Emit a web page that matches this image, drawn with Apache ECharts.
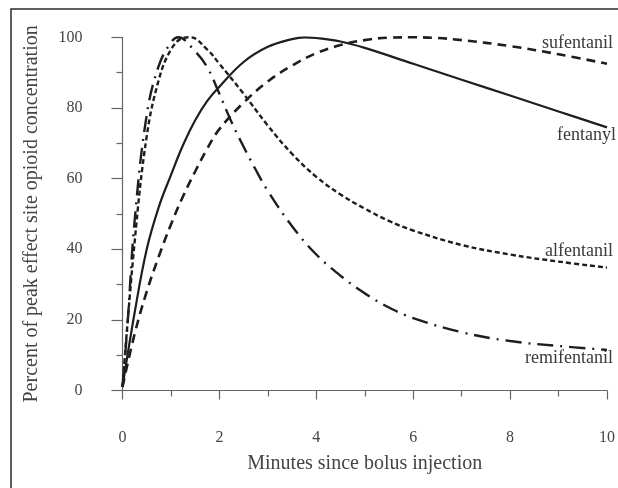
<!DOCTYPE html>
<html>
<head>
<meta charset="utf-8">
<script src="https://cdn.jsdelivr.net/npm/echarts@6/dist/echarts.min.js"></script>
<style>
html,body{margin:0;padding:0;background:#fff;}
#chart{width:618px;height:488px;}
</style>
</head>
<body>
<div id="chart"></div>
<script>
// Data (minutes, percent of peak)
const fentanylX = [0, 0.25, 0.5, 0.75, 1, 1.25, 1.5, 1.75, 2, 2.5, 3, 3.5, 3.75, 4, 4.5, 5, 6, 7, 8, 9, 10];
const fentanylY = [1, 22, 40, 52, 61, 69.5, 76.5, 82, 86, 93, 97.3, 99.5, 100, 99.8, 98.8, 97, 92.5, 88, 83.5, 79, 74.5];

const sufentanilX = [0, 0.25, 0.5, 0.75, 1, 1.25, 1.5, 1.75, 2, 2.5, 3, 3.5, 4, 4.5, 5, 5.5, 6, 6.5, 7, 8, 9, 10];
const sufentanilY = [1, 16, 28, 38, 47, 55, 62, 68.5, 74, 81.5, 87.5, 92, 95.5, 97.8, 99.2, 99.9, 100, 99.8, 99.2, 97.5, 95.2, 92.5];

const alfentanilX = [0, 0.25, 0.5, 0.75, 1, 1.25, 1.4, 1.75, 2, 2.5, 3, 3.5, 4, 4.5, 5, 5.5, 6, 7, 8, 9, 10];
const alfentanilY = [1, 42, 72, 88, 96.5, 99.8, 100, 96.5, 92.5, 84, 75, 67, 60.5, 55.5, 51.5, 48, 45.3, 41.2, 38.5, 36.5, 34.8];

const remifentanilX = [0, 0.1, 0.25, 0.5, 0.75, 1, 1.15, 1.5, 1.75, 2, 2.25, 2.5, 2.75, 3, 3.5, 4, 4.5, 5, 5.5, 6, 7, 8, 9, 10];
const remifentanilY = [1, 18, 48, 78, 92, 98.5, 100, 96, 91.5, 84, 76, 69, 62.5, 56.5, 46.5, 38.5, 32.5, 27.5, 23.5, 20.5, 16.5, 14, 12.6, 11.5];

const seriesNames = ['sufentanil', 'fentanyl', 'alfentanil', 'remifentanil'];
const xTicks = [0, 2, 4, 6, 8, 10];
const yTicks = [0, 20, 40, 60, 80, 100];

function pairs(xs, ys) { return xs.map((x, i) => [x, ys[i]]); }

const FONT = 'Liberation Serif';
const chart = echarts.init(document.getElementById('chart'), null, {renderer: 'canvas'});

function lineSeries(name, data, dash, width, labelOffset) {
  return {
    name: name,
    type: 'line',
    data: data,
    showSymbol: false,
    symbol: 'none',
    smooth: 0.4,
    lineStyle: {color: '#1e1e1e', width: width, type: dash},
    endLabel: {
      show: true,
      formatter: name,
      fontFamily: FONT,
      fontSize: 18,
      color: '#3a3a3a',
      align: 'right',
      verticalAlign: 'middle',
      distance: 5,
      offset: labelOffset
    },
    emphasis: {disabled: true},
    silent: true,
    animation: false
  };
}

chart.setOption({
  animation: false,
  backgroundColor: '#fff',
  textStyle: {fontFamily: FONT},
  graphic: [{
    type: 'rect',
    shape: {x: 11, y: 9, width: 800, height: 700},
    style: {fill: null, stroke: '#2a2a2a', lineWidth: 1.5},
    silent: true
  }],
  grid: {left: 122.5, right: 5.5, top: 37.3, bottom: 97.5, containLabel: false},
  xAxis: {
    type: 'value', min: 0, max: 10, interval: 2, offset: 17,
    axisLine: {show: true, lineStyle: {color: '#666', width: 1.2}},
    axisTick: {show: true, length: 9, lineStyle: {color: '#666', width: 1.2}},
    minorTick: {show: true, splitNumber: 2, length: 6, lineStyle: {color: '#666', width: 1.2}},
    splitLine: {show: false},
    axisLabel: {fontFamily: FONT, fontSize: 16, color: '#444', margin: 22,
      formatter: v => xTicks.includes(v) ? String(v) : ''},
    name: 'Minutes since bolus injection',
    nameLocation: 'middle', nameGap: 46,
    nameTextStyle: {fontFamily: FONT, fontSize: 20, color: '#444'}
  },
  yAxis: {
    type: 'value', min: 0, max: 100, interval: 20, offset: 11,
    axisLine: {show: true, lineStyle: {color: '#666', width: 1.2}},
    axisTick: {show: true, length: 11, lineStyle: {color: '#666', width: 1.2}},
    minorTick: {show: true, splitNumber: 2, length: 6, lineStyle: {color: '#666', width: 1.2}},
    splitLine: {show: false},
    axisLabel: {fontFamily: FONT, fontSize: 16, color: '#444', margin: 29,
      formatter: v => yTicks.includes(v) ? String(v) : ''},
    name: 'Percent of peak effect site opioid concentration',
    nameLocation: 'middle', nameGap: 70,
    nameTextStyle: {fontFamily: FONT, fontSize: 20, color: '#444'}
  },
  series: [
    lineSeries(seriesNames[0], pairs(sufentanilX, sufentanilY), [9, 6], 2.6, [1, -21]),
    lineSeries(seriesNames[1], pairs(fentanylX, fentanylY), 'solid', 2.2, [4, 8]),
    lineSeries(seriesNames[2], pairs(alfentanilX, alfentanilY), [5, 3], 2.4, [1, -16]),
    lineSeries(seriesNames[3], pairs(remifentanilX, remifentanilY), [16, 7, 2, 7], 2.4, [1, 8])
  ]
});
</script>
</body>
</html>
